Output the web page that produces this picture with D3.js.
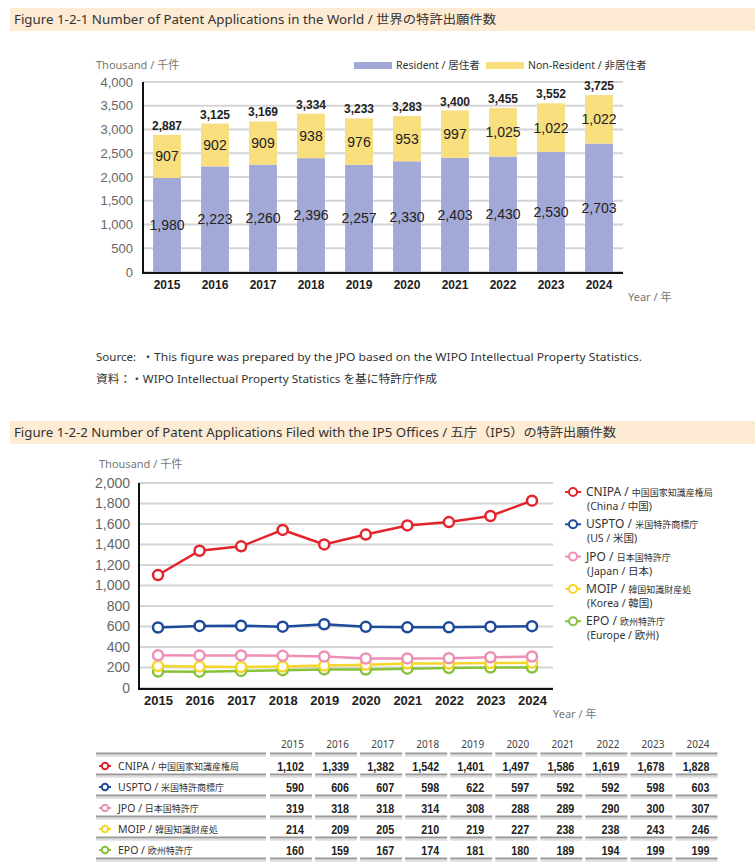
<!DOCTYPE html>
<html>
<head>
<meta charset="utf-8">
<script src="https://cdn.jsdelivr.net/npm/d3@7"></script>
<style>
body{margin:0;background:#fff;}
text{font-family:'Liberation Sans',Arial,sans-serif;}
.jp{font-family:'Noto Sans','Noto Sans CJK JP',sans-serif;}
</style>
</head>
<body>
<div id="body"></div>
<script>
//data
let years = [2015, 2016, 2017, 2018, 2019, 2020, 2021, 2022, 2023, 2024]
let resident = [1980, 2223, 2260, 2396, 2257, 2330, 2403, 2430, 2530, 2703]
let nonResident = [907, 902, 909, 938, 976, 953, 997, 1025, 1022, 1022]
let totals = [2887, 3125, 3169, 3334, 3233, 3283, 3400, 3455, 3552, 3725]
let ticks1 = [0, 500, 1000, 1500, 2000, 2500, 3000, 3500, 4000]

let offices = ['CNIPA', 'USPTO', 'JPO', 'MOIP', 'EPO']
let officeJp = ['中国国家知識産権局', '米国特許商標庁', '日本国特許庁', '韓国知識財産処', '欧州特許庁']
let officeSub = ['(China / 中国)', '(US / 米国)', '(Japan / 日本)', '(Korea / 韓国)', '(Europe / 欧州)']
let cnipa = [1102, 1339, 1382, 1542, 1401, 1497, 1586, 1619, 1678, 1828]
let uspto = [590, 606, 607, 598, 622, 597, 592, 592, 598, 603]
let jpo = [319, 318, 318, 314, 308, 288, 289, 290, 300, 307]
let moip = [214, 209, 205, 210, 219, 227, 238, 238, 243, 246]
let epo = [160, 159, 167, 174, 181, 180, 189, 194, 199, 199]
let ticks2 = [0, 200, 400, 600, 800, 1000, 1200, 1400, 1600, 1800, 2000]
let lineColors = ['#e3242b', '#1d4b9b', '#ee8fb8', '#f6d629', '#86c23a']

let series = [cnipa, uspto, jpo, moip, epo]
let fmt = d3.format(',')

//svg placemat
let svg = d3.select('#body')
.append('svg')
.attr('width', 755)
.attr('height', 863)

//title bars
let titleBar = (y, label, len) => {
svg.append('rect')
.attr('x', 10).attr('y', y)
.attr('width', 745).attr('height', 23)
.attr('fill', '#fdebd3')
svg.append('text')
.attr('class', 'jp')
.attr('x', 14).attr('y', y + 16)
.attr('font-size', 12)
.attr('fill', '#333')
.attr('textLength', len)
.attr('lengthAdjust', 'spacingAndGlyphs')
.text(label)
}
titleBar(8, 'Figure 1-2-1  Number of Patent Applications in the World / 世界の特許出願件数', 482)
titleBar(421, 'Figure 1-2-2  Number of Patent Applications Filed with the IP5 Offices / 五庁（IP5）の特許出願件数', 602)

// ---------- chart 1 ----------
let x1 = d3.scaleBand()
.domain(years)
.range([143, 623])
.paddingInner(0.42)
.paddingOuter(0.21)
let y1 = d3.scaleLinear()
.domain([0, 4000])
.range([272, 82])

let g1 = svg.append('g')

//grid
g1.append('g')
.selectAll('line')
.data(ticks1)
.join('line')
.attr('x1', 143).attr('x2', 623)
.attr('y1', d => y1(d)).attr('y2', d => y1(d))
.attr('stroke', '#d4d4d4')
.attr('stroke-width', 2)

//y axis
let yAxis1 = d3.axisLeft(y1).tickValues(ticks1).tickSize(0).tickPadding(10).tickFormat(fmt)
g1.append('g')
.attr('transform', 'translate(143,0)')
.call(yAxis1)
.call(g => g.select('.domain').remove())
.call(g => g.selectAll('text').attr('font-size', 13).attr('fill', '#666').attr('font-family', 'Liberation Sans'))

//bars
g1.append('g')
.selectAll('rect')
.data(years)
.join('rect')
.attr('x', d => x1(d))
.attr('width', x1.bandwidth())
.attr('y', (d, i) => y1(resident[i]))
.attr('height', (d, i) => y1(0) - y1(resident[i]))
.attr('fill', '#a2a9d6')
g1.append('g')
.selectAll('rect')
.data(years)
.join('rect')
.attr('x', d => x1(d))
.attr('width', x1.bandwidth())
.attr('y', (d, i) => y1(resident[i] + nonResident[i]))
.attr('height', (d, i) => y1(resident[i]) - y1(resident[i] + nonResident[i]))
.attr('fill', '#f8de7d')

//axis lines
g1.append('line').attr('x1', 143).attr('x2', 143).attr('y1', 82).attr('y2', 273).attr('stroke', '#111').attr('stroke-width', 2)
g1.append('line').attr('x1', 142).attr('x2', 623).attr('y1', 273).attr('y2', 273).attr('stroke', '#111').attr('stroke-width', 2)

//x labels
let xAxis1 = d3.axisBottom(x1).tickSize(0).tickPadding(7)
g1.append('g')
.attr('transform', 'translate(0,273)')
.call(xAxis1)
.call(g => g.select('.domain').remove())
.call(g => g.selectAll('text').attr('font-size', 12).attr('font-weight', 'bold').attr('fill', '#222').attr('font-family', 'Liberation Sans'))

//value labels
let mid = d => x1(d) + x1.bandwidth() / 2
g1.append('g')
.selectAll('text')
.data(years)
.join('text')
.attr('x', mid)
.attr('y', (d, i) => y1(resident[i] / 2) + 5)
.attr('text-anchor', 'middle')
.attr('font-size', 14)
.attr('fill', '#222')
.text((d, i) => fmt(resident[i]))
g1.append('g')
.selectAll('text')
.data(years)
.join('text')
.attr('x', mid)
.attr('y', (d, i) => y1(resident[i] + nonResident[i] / 2) + 5)
.attr('text-anchor', 'middle')
.attr('font-size', 14)
.attr('fill', '#222')
.text((d, i) => fmt(nonResident[i]))
g1.append('g')
.selectAll('text')
.data(years)
.join('text')
.attr('x', mid)
.attr('y', (d, i) => y1(totals[i]) - 5)
.attr('text-anchor', 'middle')
.attr('font-size', 12)
.attr('font-weight', 'bold')
.attr('fill', '#222')
.text((d, i) => fmt(totals[i]))

//unit labels
svg.append('text').attr('class', 'jp').attr('x', 96).attr('y', 69).attr('font-size', 11).attr('fill', '#777').text('Thousand / 千件')
svg.append('text').attr('class', 'jp').attr('x', 628).attr('y', 301).attr('font-size', 11).attr('fill', '#777').text('Year / 年')

//legend 1
let leg1 = [['Resident / 居住者', '#a2a9d6', 354], ['Non-Resident / 非居住者', '#f8de7d', 486]]
leg1.forEach(l => {
svg.append('rect').attr('x', l[2]).attr('y', 62).attr('width', 38).attr('height', 7).attr('fill', l[1])
svg.append('text').attr('class', 'jp').attr('x', l[2] + 42).attr('y', 69).attr('font-size', 10.5).attr('fill', '#333').text(l[0])
})

//source
svg.append('text').attr('class', 'jp').attr('x', 96).attr('y', 361).attr('font-size', 11.5).attr('fill', '#333').text('Source:')
svg.append('text').attr('class', 'jp').attr('x', 142).attr('y', 361).attr('font-size', 11.5).attr('fill', '#333')
.attr('textLength', 500).attr('lengthAdjust', 'spacingAndGlyphs')
.text('・This figure was prepared by the JPO based on the WIPO Intellectual Property Statistics.')
svg.append('text').attr('class', 'jp').attr('x', 96).attr('y', 383).attr('font-size', 11.5).attr('fill', '#333')
.attr('textLength', 341).attr('lengthAdjust', 'spacingAndGlyphs')
.text('資料：・WIPO Intellectual Property Statistics を基に特許庁作成')

// ---------- chart 2 ----------
let x2 = d3.scalePoint()
.domain(years)
.range([158, 532])
let y2 = d3.scaleLinear()
.domain([0, 2000])
.range([688, 483])

let g2 = svg.append('g')
g2.append('g')
.selectAll('line')
.data(ticks2)
.join('line')
.attr('x1', 139).attr('x2', 553)
.attr('y1', d => y2(d)).attr('y2', d => y2(d))
.attr('stroke', '#d4d4d4')
.attr('stroke-width', 2)

let yAxis2 = d3.axisLeft(y2).tickValues(ticks2).tickSize(0).tickPadding(9).tickFormat(fmt)
g2.append('g')
.attr('transform', 'translate(139,0)')
.call(yAxis2)
.call(g => g.select('.domain').remove())
.call(g => g.selectAll('text').attr('font-size', 14).attr('fill', '#666').attr('font-family', 'Liberation Sans'))

g2.append('line').attr('x1', 139).attr('x2', 139).attr('y1', 483).attr('y2', 689).attr('stroke', '#111').attr('stroke-width', 2)
g2.append('line').attr('x1', 138).attr('x2', 553).attr('y1', 689).attr('y2', 689).attr('stroke', '#111').attr('stroke-width', 2)

let xAxis2 = d3.axisBottom(x2).tickSize(0).tickPadding(7)
g2.append('g')
.attr('transform', 'translate(0,689)')
.call(xAxis2)
.call(g => g.select('.domain').remove())
.call(g => g.selectAll('text').attr('font-size', 13).attr('font-weight', 'bold').attr('fill', '#222').attr('font-family', 'Liberation Sans'))

//lines, drawn from the bottom series up
let line = d3.line().x((d, i) => x2(years[i])).y(d => y2(d))
for (let k = series.length - 1; k >= 0; k--) {
g2.append('path')
.datum(series[k])
.attr('d', line)
.attr('fill', 'none')
.attr('stroke', lineColors[k])
.attr('stroke-width', 2.5)
g2.append('g')
.selectAll('circle')
.data(series[k])
.join('circle')
.attr('cx', (d, i) => x2(years[i]))
.attr('cy', d => y2(d))
.attr('r', 5)
.attr('fill', '#fff')
.attr('stroke', lineColors[k])
.attr('stroke-width', 2.5)
}

svg.append('text').attr('class', 'jp').attr('x', 99).attr('y', 468).attr('font-size', 11).attr('fill', '#777').text('Thousand / 千件')
svg.append('text').attr('class', 'jp').attr('x', 553).attr('y', 718).attr('font-size', 11).attr('fill', '#777').text('Year / 年')

//legend 2
let marker = (sel, cx, cy, color, w, r) => {
sel.append('line').attr('x1', cx - w).attr('x2', cx + w).attr('y1', cy).attr('y2', cy).attr('stroke', color).attr('stroke-width', 2)
sel.append('circle').attr('cx', cx).attr('cy', cy).attr('r', r).attr('fill', '#fff').attr('stroke', color).attr('stroke-width', 2)
}
offices.forEach((o, i) => {
let cy = 492 + i * 32.3
marker(svg, 573, cy, lineColors[i], 8, 4)
let t = svg.append('text').attr('class', 'jp').attr('x', 586).attr('y', cy + 4).attr('fill', '#333')
t.append('tspan').attr('font-size', 12).text(o + ' / ')
t.append('tspan').attr('font-size', 9).text(officeJp[i])
svg.append('text').attr('class', 'jp').attr('x', 587).attr('y', cy + 18).attr('font-size', 10.5).attr('fill', '#333').text(officeSub[i])
})

// ---------- table ----------
let colRight = d3.scalePoint().domain(years).range([304, 709.5])
let rowY = d3.scaleBand().domain(offices).range([754.5, 859.5])
let table = svg.append('g')

table.append('g')
.selectAll('text')
.data(years)
.join('text')
.attr('class', 'jp')
.attr('x', d => colRight(d))
.attr('y', 748)
.attr('text-anchor', 'end')
.attr('font-size', 10)
.attr('fill', '#444')
.text(d => d)

//rules
let rules = [754.5].concat(offices.map(o => rowY(o) + rowY.bandwidth()))
let segs = [[96, 266]].concat(years.map(y => [colRight(y) - 34, colRight(y) + 8]))
rules.forEach(ry => {
segs.forEach(s => {
table.append('line').attr('x1', s[0]).attr('x2', s[1]).attr('y1', ry - 1).attr('y2', ry - 1).attr('stroke', '#999').attr('stroke-width', 2)
table.append('line').attr('x1', s[0]).attr('x2', s[1]).attr('y1', ry + 1.3).attr('y2', ry + 1.3).attr('stroke', '#d0d0d0').attr('stroke-width', 1.2)
})
})

offices.forEach((o, i) => {
let cy = rowY(o) + rowY.bandwidth() / 2 + 1
marker(table, 105, cy, lineColors[i], 6, 3.2)
let t = table.append('text').attr('class', 'jp').attr('x', 118).attr('y', cy + 4).attr('fill', '#333')
t.append('tspan').attr('font-size', 10.5).text(o + ' / ')
t.append('tspan').attr('font-size', 9).text(officeJp[i])
table.append('g')
.selectAll('text')
.data(series[i])
.join('text')
.attr('transform', (d, j) => `translate(${colRight(years[j])},${cy + 4.5}) scale(0.86,1)`)
.attr('text-anchor', 'end')
.attr('font-size', 12.5)
.attr('font-weight', 'bold')
.attr('fill', '#222')
.text(d => fmt(d))
})
</script>
</body>
</html>
